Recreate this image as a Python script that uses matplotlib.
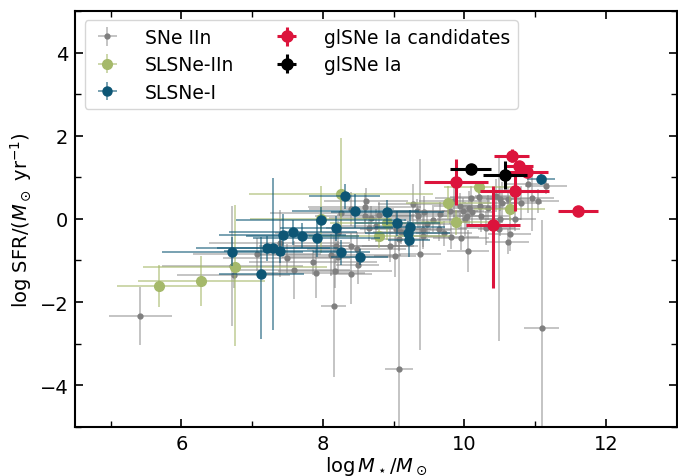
import numpy as np
import matplotlib
matplotlib.use('Agg')
import matplotlib.pyplot as plt
from matplotlib.ticker import MultipleLocator

# SNe IIn host galaxies (gray)
iin_mass = [5.42, 6.72, 6.74, 7.07, 7.39, 7.49, 7.59, 7.86, 7.90, 8.17,
            8.15, 8.11, 8.19, 8.22, 8.25, 8.22, 8.40, 8.49, 8.40, 8.48,
            8.59, 8.59, 8.68, 8.65, 8.75, 8.80, 8.61, 8.95, 9.02, 9.08,
            9.03, 9.08, 9.11, 9.28, 9.33, 9.43, 9.47, 9.41, 9.37, 9.55,
            9.65, 9.64, 9.71, 9.81, 9.95, 9.86, 9.94, 9.98, 10.03, 10.06,
            10.09, 10.11, 10.01, 10.05, 10.22, 10.24, 10.20, 10.33, 10.31, 10.45,
            10.50, 10.53, 10.61, 10.50, 10.49, 10.64, 10.71, 10.80, 10.96, 11.04,
            10.61, 9.79, 9.35, 11.15, 11.09, 9.42, 8.40, 10.90]
iin_sfr = [-2.33, -1.13, -1.35, -0.85, -0.59, -0.95, -1.22, -1.04, -1.31, -1.26,
           -2.10, -0.87, -0.66, -0.92, 0.13, -0.34, -1.33, -1.11, -0.65, -0.72,
           0.28, 0.06, 0.02, -0.22, -0.16, 0.10, 0.44, -0.64, -0.90, -0.48,
           -0.24, -3.61, -0.31, 0.35, 0.19, 0.16, -0.12, -0.27, -0.85, -0.02,
           0.11, -0.24, -0.34, -0.43, -0.45, 0.42, 0.32, 0.20, 0.08, 0.26,
           0.50, 0.16, 0.00, -0.77, 0.30, 0.08, 0.52, 0.27, -0.22, 0.56,
           0.48, 0.39, 0.47, 0.00, -0.24, -0.36, 0.00, 0.38, 0.50, 0.43,
           -0.55, 0.18, 0.07, 0.80, -2.62, -0.42, 0.24, 0.85]
iin_mass_err = [0.45, 1.0, 0.8, 0.9, 1.0, 0.9, 0.8, 0.9, 0.7, 0.8,
                0.17, 1.0, 1.1, 0.8, 1.0, 0.9, 0.3, 0.3, 0.8, 0.7,
                0.8, 0.7, 0.6, 0.6, 0.5, 0.6, 0.6, 0.4, 0.3, 0.4,
                0.5, 0.2, 0.4, 0.5, 0.4, 0.5, 0.4, 0.4, 0.3, 0.4,
                0.3, 0.4, 0.4, 0.4, 0.4, 0.5, 0.4, 0.3, 0.4, 0.3,
                0.5, 0.3, 0.4, 0.3, 0.3, 0.4, 0.4, 0.3, 0.4, 0.3,
                0.3, 0.3, 0.3, 0.3, 0.3, 0.3, 0.3, 0.3, 0.3, 0.3,
                0.3, 0.4, 0.4, 0.3, 0.25, 0.3, 0.6, 0.3]
iin_sfr_lo = [0.70, 1.45, 0.30, 0.40, 0.80, 0.35, 0.70, 0.30, 0.60, 0.40,
              1.70, 0.50, 0.40, 0.40, 0.50, 0.30, 0.72, 0.45, 0.30, 0.40,
              0.35, 0.40, 0.30, 0.30, 0.40, 0.30, 0.30, 0.40, 0.50, 0.30,
              0.40, 3.10, 0.30, 0.50, 0.30, 0.40, 0.30, 0.40, 2.30, 0.30,
              0.30, 0.30, 0.30, 0.30, 0.30, 0.40, 0.30, 0.30, 0.30, 0.40,
              0.30, 0.30, 0.40, 0.50, 0.30, 0.40, 0.30, 0.30, 0.40, 0.40,
              0.30, 0.50, 0.30, 0.40, 2.70, 0.40, 0.30, 0.40, 0.80, 0.30,
              0.30, 0.30, 0.30, 0.20, 2.60, 0.30, 0.40, 0.70]
iin_sfr_hi = [0.70, 1.45, 0.30, 0.40, 0.80, 0.35, 0.70, 0.30, 0.60, 0.40,
              1.70, 0.50, 0.40, 0.40, 0.50, 0.30, 0.40, 0.45, 0.30, 0.40,
              0.35, 0.40, 0.30, 0.30, 0.40, 0.30, 0.30, 0.40, 0.50, 0.30,
              0.40, 3.10, 0.30, 0.50, 0.30, 0.40, 0.30, 0.40, 2.30, 0.30,
              0.30, 0.30, 0.30, 0.30, 0.30, 0.40, 0.30, 0.30, 0.30, 0.40,
              0.30, 0.30, 0.40, 0.50, 0.30, 0.40, 0.30, 0.30, 0.40, 0.40,
              0.30, 0.50, 0.30, 0.40, 1.70, 0.40, 0.30, 0.40, 0.80, 0.30,
              0.30, 0.30, 0.30, 0.20, 2.60, 0.30, 0.40, 0.30]

# SLSNe-IIn (green)
slsn_iin_mass = [5.69, 6.28, 6.76, 7.97, 8.26, 8.80, 8.90, 9.77, 9.88, 10.21, 10.64]
slsn_iin_sfr = [-1.61, -1.50, -1.16, -0.01, 0.59, -0.40, -0.10, 0.39, -0.08, 0.76, 0.24]
slsn_iin_mass_err = [0.6, 0.9, 1.3, 1.0, 1.3, 1.0, 0.8, 0.6, 0.5, 0.5, 0.5]
slsn_iin_sfr_lo = [0.5, 0.6, 1.9, 0.8, 0.8, 0.3, 0.4, 0.4, 0.3, 0.15, 0.3]
slsn_iin_sfr_hi = [0.5, 0.6, 1.5, 0.8, 1.35, 0.3, 0.4, 0.4, 0.3, 0.15, 0.3]

# SLSNe-I (blue)
slsn_i_mass = [6.72, 7.13, 7.21, 7.30, 7.40, 7.43, 7.58, 7.71, 7.91, 7.97,
               8.19, 8.26, 8.31, 8.46, 8.52, 8.91, 9.05, 9.23, 9.20, 9.22, 11.08]
slsn_i_sfr = [-0.79, -1.33, -0.71, -0.71, -0.76, -0.39, -0.32, -0.41, -0.46, -0.02,
              -0.22, -0.80, 0.54, 0.19, -0.92, 0.16, -0.10, -0.19, -0.34, -0.51, 0.96]
slsn_i_mass_err = [1.0, 0.6, 1.0, 0.8, 0.8, 0.9, 0.9, 0.8, 0.9, 1.2,
                   0.8, 0.4, 0.5, 0.9, 0.4, 0.8, 0.6, 0.5, 0.6, 0.3, 0.2]
slsn_i_sfr_lo = [0.35, 1.55, 0.3, 1.95, 0.3, 0.5, 0.3, 0.3, 0.45, 0.3,
                 0.3, 0.3, 0.3, 0.4, 0.2, 0.3, 0.3, 0.4, 0.3, 0.4, 0.15]
slsn_i_sfr_hi = [0.35, 0.9, 0.3, 1.7, 0.3, 0.5, 0.3, 0.3, 0.45, 0.3,
                 0.3, 0.3, 0.3, 0.4, 0.2, 0.3, 0.3, 0.4, 0.3, 0.4, 0.15]

# glSNe Ia candidates (red)
cand_mass = [10.67, 10.77, 10.88, 9.88, 10.71, 10.40, 11.61]
cand_sfr = [1.52, 1.28, 1.13, 0.89, 0.67, -0.14, 0.19]
cand_mass_err = [0.25, 0.2, 0.3, 0.45, 0.49, 0.38, 0.28]
cand_sfr_lo = [0.15, 0.12, 0.1, 0.55, 0.47, 1.53, 0.05]
cand_sfr_hi = [0.15, 0.12, 0.1, 0.55, 0.47, 0.92, 0.05]

# glSNe Ia (black)
glia_mass = [10.09, 10.57]
glia_sfr = [1.20, 1.06]
glia_mass_err = [0.29, 0.31]
glia_sfr_err = [0.08, 0.33]

fig = plt.figure(figsize=(6.78, 4.77), dpi=100)
ax = fig.add_axes([0.111, 0.103, 0.887, 0.872])

ax.errorbar(iin_mass, iin_sfr, xerr=iin_mass_err, yerr=[iin_sfr_lo, iin_sfr_hi],
            fmt='o', color='#7f7f7f', ms=3.5, elinewidth=1.3, capsize=0,
            ecolor=(0.5, 0.5, 0.5, 0.5), label='SNe IIn', zorder=2)
ax.errorbar(slsn_iin_mass, slsn_iin_sfr, xerr=slsn_iin_mass_err,
            yerr=[slsn_iin_sfr_lo, slsn_iin_sfr_hi],
            fmt='o', color='#a5b96a', ms=7, elinewidth=1.3, capsize=0,
            ecolor=(0.647, 0.725, 0.416, 0.6), label='SLSNe-IIn', zorder=3)
ax.errorbar(slsn_i_mass, slsn_i_sfr, xerr=slsn_i_mass_err,
            yerr=[slsn_i_sfr_lo, slsn_i_sfr_hi],
            fmt='o', color='#0d5675', ms=6.5, elinewidth=1.3, capsize=0,
            ecolor=(0.05, 0.34, 0.46, 0.6), label='SLSNe-I', zorder=4)
ax.errorbar(cand_mass, cand_sfr, xerr=cand_mass_err, yerr=[cand_sfr_lo, cand_sfr_hi],
            fmt='o', color='#dc143c', ms=8, elinewidth=2.2, capsize=0,
            label='glSNe Ia candidates', zorder=5)
ax.errorbar(glia_mass, glia_sfr, xerr=glia_mass_err, yerr=glia_sfr_err,
            fmt='o', color='black', ms=8, elinewidth=2.2, capsize=0,
            label='glSNe Ia', zorder=6)

ax.set_xlim(4.5, 13)
ax.set_ylim(-5, 5)
ax.xaxis.set_major_locator(MultipleLocator(2))
ax.xaxis.set_minor_locator(MultipleLocator(1))
ax.yaxis.set_major_locator(MultipleLocator(2))
ax.yaxis.set_minor_locator(MultipleLocator(1))
ax.tick_params(which='both', direction='in', top=True, right=True, labelsize=14)
ax.tick_params(which='major', length=6, width=1.2, pad=5)
ax.tick_params(which='minor', length=4, width=1)
for sp in ax.spines.values():
    sp.set_linewidth(1.5)

ax.set_xlabel(r'$\log M_\star/M_\odot$', fontsize=14, labelpad=1)
ax.set_ylabel(r'log SFR/$(M_\odot$ yr$^{-1})$', fontsize=14, labelpad=4)

ax.legend(loc='upper left', ncol=2, fontsize=13.5, handlelength=1.6,
          columnspacing=2.0, borderaxespad=0.5, labelspacing=0.45,
          handletextpad=1.2, borderpad=0.4)

fig.savefig('out.png', dpi=100)
